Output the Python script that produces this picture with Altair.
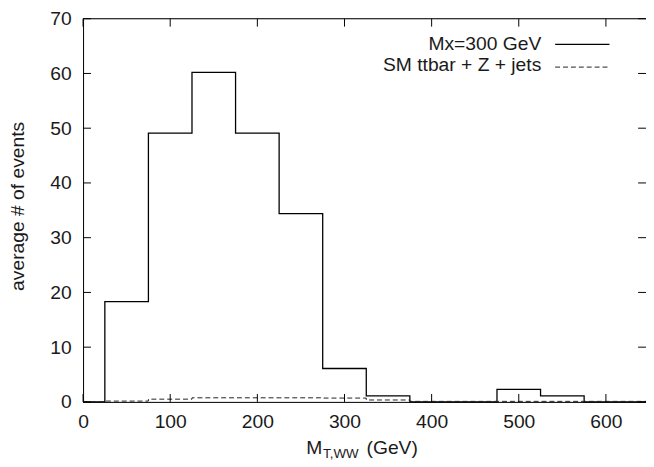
import altair as alt
import pandas as pd

# ---- data ----
bin_edges = [0, 25, 75, 125, 175, 225, 275, 325, 375, 425, 475, 525, 575, 625]
signal = [0.0, 18.3, 49.1, 60.2, 49.1, 34.4, 6.1, 1.1, 0.0, 0.0, 2.3, 1.1, 0.0, 0.0]
background = [0.0, 0.15, 0.5, 0.75, 0.75, 0.75, 0.7, 0.35, 0.1, 0.1, 0.1, 0.1, 0.1, 0.1]
x_end = 646
x_ticks = [0, 100, 200, 300, 400, 500, 600]
y_ticks = [0, 10, 20, 30, 40, 50, 60, 70]
legend_labels = ["Mx=300 GeV", "SM ttbar + Z + jets"]
x_title_parts = ["M", "T,WW", "(GeV)"]
y_title = "average # of events"

W, H = 570, 388
FONT = "Liberation Sans"
FS = 19.5
TXT = "#1a1a1a"

xscale = alt.Scale(domain=[0, x_end], nice=False, zero=False)
yscale = alt.Scale(domain=[0, 70], nice=False)
xaxis = alt.Axis(values=x_ticks, title=None, ticks=False, grid=False, labelFlush=False,
                 labelFontSize=FS, labelFont=FONT, labelColor=TXT, labelPadding=11,
                 labelOverlap=False, domainColor="black", domainWidth=1, format="d")
yaxis = alt.Axis(values=y_ticks, title=None, ticks=False, grid=False, labelFlush=False,
                 labelFontSize=FS, labelFont=FONT, labelColor=TXT, labelPadding=12,
                 labelOverlap=False, domainColor="black", domainWidth=1, format="d")

X = alt.X("x:Q", scale=xscale, axis=xaxis)
Y = alt.Y("y:Q", scale=yscale, axis=yaxis)

df_sig = pd.DataFrame({"x": bin_edges + [x_end], "y": signal + [signal[-1]]})
df_bkg = pd.DataFrame({"x": bin_edges + [x_end], "y": background + [background[-1]]})

sig = alt.Chart(df_sig).mark_line(interpolate="step-after", color="black",
                                  strokeWidth=1.3).encode(x=X, y=Y)
bkg = alt.Chart(df_bkg).mark_line(interpolate="step-after", color="#222",
                                  strokeWidth=1, strokeDash=[5, 3]).encode(x=X, y=Y)

df_xt = pd.DataFrame({"x": x_ticks})
df_yt = pd.DataFrame({"y": y_ticks})
TL = 8
xt_bot = alt.Chart(df_xt).mark_rule(color="black", strokeWidth=1).encode(
    x=X, y=alt.value(H), y2=alt.value(H - TL))
xt_top = alt.Chart(df_xt).mark_rule(color="black", strokeWidth=1).encode(
    x=X, y=alt.value(0), y2=alt.value(TL))
yt_left = alt.Chart(df_yt).mark_rule(color="black", strokeWidth=1).encode(
    y=Y, x=alt.value(0), x2=alt.value(TL))
yt_right = alt.Chart(df_yt).mark_rule(color="black", strokeWidth=1).encode(
    y=Y, x=alt.value(W - TL), x2=alt.value(W))

one = pd.DataFrame({"k": [0]})
top_border = alt.Chart(one).mark_rule(color="black", strokeWidth=1).encode(
    x=alt.value(0), x2=alt.value(W), y=alt.value(0))


def txt(s, x, y, size, angle=0, align="left"):
    return alt.Chart(pd.DataFrame({"label": [s]})).mark_text(
        align=align, baseline="middle", font=FONT, fontSize=size, color=TXT, angle=angle
    ).encode(text="label:N", x=alt.value(x), y=alt.value(y))


# legend
leg_text1 = txt(legend_labels[0], 464, 26, FS, align="right")
leg_text2 = txt(legend_labels[1], 464, 47, FS, align="right")
leg_line1 = alt.Chart(one).mark_rule(color="black", strokeWidth=1.3).encode(
    x=alt.value(478), x2=alt.value(533), y=alt.value(26))
leg_line2 = alt.Chart(one).mark_rule(color="#222", strokeWidth=1, strokeDash=[5, 3]).encode(
    x=alt.value(478), x2=alt.value(533), y=alt.value(49))

# axis titles
xt1 = txt(x_title_parts[0], 226, 435, FS)
xt2 = txt(x_title_parts[1], 243, 441, 13.5)
xt3 = txt(x_title_parts[2], 287, 435, FS)
yt = txt(y_title, -66, 190, FS, angle=270, align="center")

chart = alt.layer(
    sig, bkg, xt_bot, xt_top, yt_left, yt_right, top_border,
    leg_text1, leg_text2, leg_line1, leg_line2, xt1, xt2, xt3, yt
).properties(
    width=W, height=H,
    autosize=alt.AutoSizeParams(type="none"),
    padding={"left": 76, "top": 8, "right": 0, "bottom": 58},
).configure_view(stroke=None).configure(background="white")

chart.save("out.html", embed_options={"renderer": "svg", "actions": False})
